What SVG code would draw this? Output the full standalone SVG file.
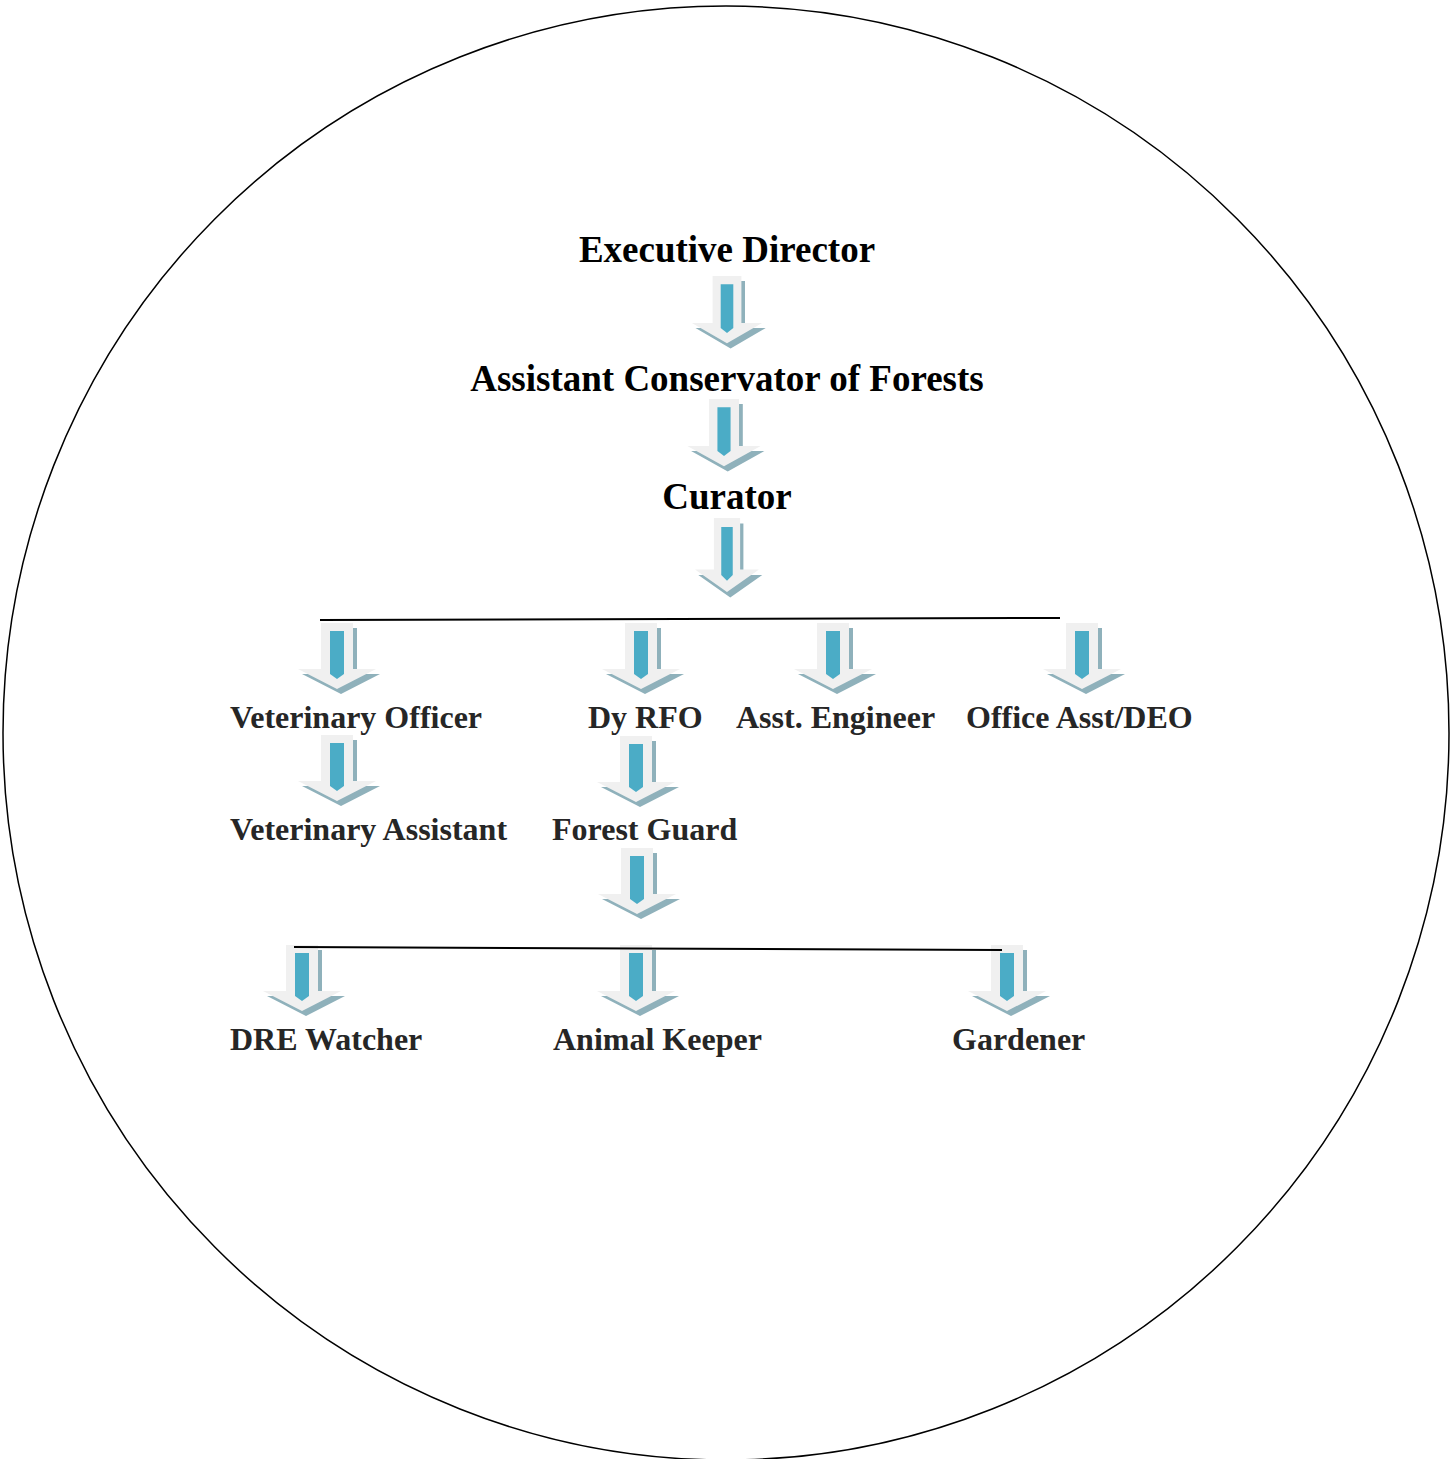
<svg xmlns="http://www.w3.org/2000/svg" xmlns:xlink="http://www.w3.org/1999/xlink" width="1450" height="1459" viewBox="0 0 1450 1459">
<style>
text{font-family:"Liberation Serif","Times New Roman",serif;font-weight:bold}
.t1{font-size:37px;fill:#000}
.t2{font-size:32px;fill:#262626}
.ln{stroke:#000;stroke-width:2;fill:none}
</style>
<defs>
<g id="arr">
<path d="M-16,0 H16 V46 H39 L0,66 L-39,46 H-16 Z" fill="#8fb1bb" transform="translate(4,5)"/>
<path d="M-16,0 H16 V46 H39 L0,66 L-39,46 H-16 Z" fill="#f0f0f0"/>
<path d="M-7,8 H7 V51 L0,56 L-7,51 Z" fill="#4bacc6"/>
</g>
</defs>
<rect width="1450" height="1459" fill="#fff"/>
<ellipse cx="726" cy="733" rx="723" ry="727" fill="none" stroke="#000" stroke-width="1.5"/>
<g id="connectors">
<use xlink:href="#arr" transform="translate(727,276) scale(0.9,1.02)"/>
<use xlink:href="#arr" transform="translate(724,399) scale(0.94,1.02)"/>
<use xlink:href="#arr" transform="translate(727,518) scale(0.82,1.12)"/>
<use xlink:href="#arr" transform="translate(337,623)"/>
<use xlink:href="#arr" transform="translate(641,623)"/>
<use xlink:href="#arr" transform="translate(833,623)"/>
<use xlink:href="#arr" transform="translate(1082,623)"/>
<use xlink:href="#arr" transform="translate(337,735)"/>
<use xlink:href="#arr" transform="translate(636,736)"/>
<use xlink:href="#arr" transform="translate(637,848)"/>
<use xlink:href="#arr" transform="translate(302,945)"/>
<use xlink:href="#arr" transform="translate(636,945)"/>
<use xlink:href="#arr" transform="translate(1007,945)"/>
<line class="ln" x1="320" y1="620" x2="1060" y2="618"/>
<line class="ln" x1="294" y1="947" x2="1002" y2="950"/>
</g>
<g id="n-ed"><text class="t1" x="727" y="262" text-anchor="middle">Executive Director</text></g>
<g id="n-acf"><text class="t1" x="727" y="391" text-anchor="middle">Assistant Conservator of Forests</text></g>
<g id="n-curator"><text class="t1" x="727" y="509" text-anchor="middle">Curator</text></g>
<g id="n-vo"><text class="t2" x="230" y="728">Veterinary Officer</text></g>
<g id="n-dyrfo"><text class="t2" x="588" y="728">Dy RFO</text></g>
<g id="n-ae"><text class="t2" x="736" y="728">Asst. Engineer</text></g>
<g id="n-oa"><text class="t2" x="966" y="728">Office Asst/DEO</text></g>
<g id="n-va"><text class="t2" x="230" y="840">Veterinary Assistant</text></g>
<g id="n-fg"><text class="t2" x="552" y="840">Forest Guard</text></g>
<g id="n-dre"><text class="t2" x="230" y="1050">DRE Watcher</text></g>
<g id="n-ak"><text class="t2" x="553" y="1050">Animal Keeper</text></g>
<g id="n-gd"><text class="t2" x="952" y="1050">Gardener</text></g>
</svg>
